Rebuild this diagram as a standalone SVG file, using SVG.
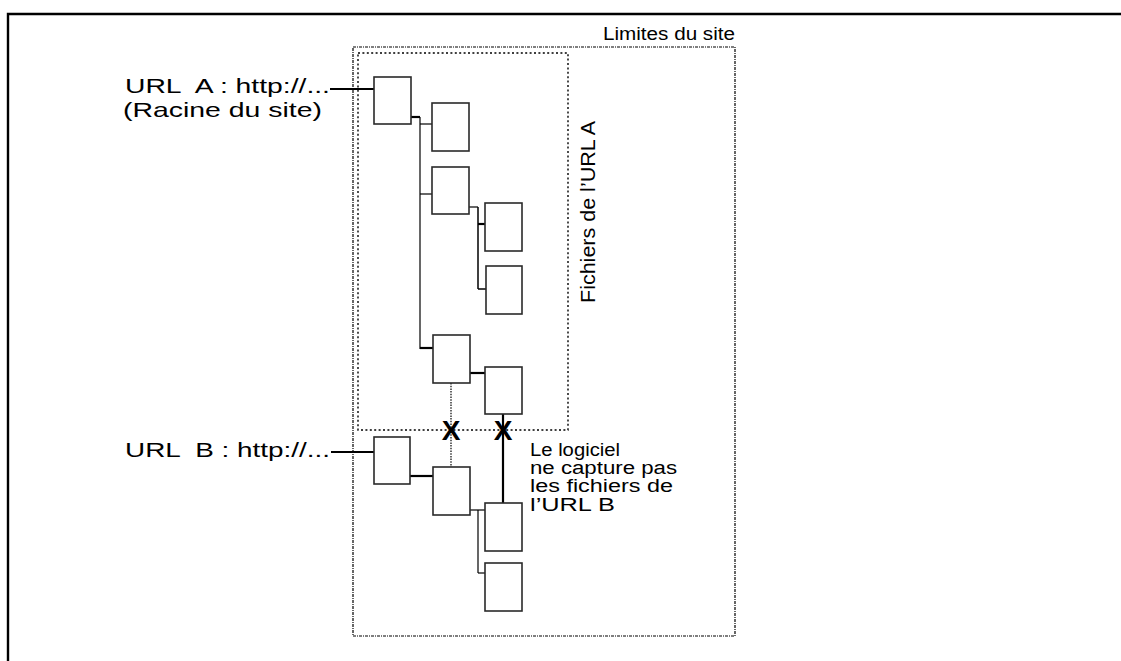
<svg xmlns="http://www.w3.org/2000/svg" width="1121" height="661" viewBox="0 0 1121 661">
<style>
text{font-family:"Liberation Sans",Arial,sans-serif;fill:#000}
.lbl{font-size:21px}
.small{font-size:18px}
.box{fill:#fff;stroke:#2a2a2a;stroke-width:1.6}
.thin{stroke:#000;stroke-width:1.2;fill:none}
.thick{stroke:#000;stroke-width:2.2;fill:none}
.dot{stroke:#000;stroke-width:1.2;stroke-dasharray:1.5,1.2;fill:none}
.xmark{font-size:28px;font-weight:bold}
</style>
<rect width="1121" height="661" fill="#fff"/>
<path d="M8,680 V14 H1140" fill="none" stroke="#000" stroke-width="2.4"/>
<g id="site-limits">
<rect x="353" y="47" width="382" height="589" fill="none" stroke="#000" stroke-width="1.2" stroke-dasharray="3,1,1,1"/>
<text class="small" x="603" y="40" textLength="132" lengthAdjust="spacingAndGlyphs">Limites du site</text>
</g>
<g id="url-a-files">
<rect x="358" y="53" width="210" height="377" fill="none" stroke="#000" stroke-width="1.4" stroke-dasharray="2,2.4"/>
<text class="small" transform="translate(595,303) rotate(-90)" textLength="182" lengthAdjust="spacingAndGlyphs" style="font-size:20px">Fichiers de l’URL A</text>
</g>
<g id="connectors">
<line class="thick" x1="330" y1="89" x2="375" y2="89"/>
<polyline class="thick" points="411,117 420,117"/>
<line class="thin" x1="420" y1="117" x2="420" y2="349"/>
<line class="thin" x1="420" y1="124" x2="432" y2="124"/>
<line class="thin" x1="420" y1="194" x2="432" y2="194" stroke="#555"/>
<line class="thick" x1="420" y1="348" x2="433" y2="348"/>
<line class="thin" x1="469" y1="207" x2="478" y2="207"/>
<line class="thin" x1="478" y1="207" x2="478" y2="289" style="stroke-width:1.5"/>
<line class="thick" x1="478" y1="224" x2="485" y2="224"/>
<line class="thin" x1="478" y1="289" x2="486" y2="289" style="stroke-width:1.5"/>
<line class="thick" x1="470" y1="373" x2="485" y2="373"/>
<line class="dot" x1="451" y1="383" x2="451" y2="467"/>
<line class="thick" x1="503" y1="414" x2="503" y2="503"/>
<line class="thick" x1="331" y1="452" x2="375" y2="452"/>
<line class="thick" x1="410" y1="476" x2="433" y2="476"/>
<line class="thin" x1="470" y1="510" x2="485" y2="510"/>
<line class="thin" x1="478" y1="510" x2="478" y2="573"/>
<line class="thin" x1="478" y1="573" x2="485" y2="573"/>
</g>
<g id="x-marks">
<text class="xmark" x="451" y="440" text-anchor="middle">X</text>
<text class="xmark" x="503" y="440" text-anchor="middle">X</text>
</g>
<g id="url-a-label">
<text class="lbl" x="125" y="93" textLength="205" lengthAdjust="spacingAndGlyphs" xml:space="preserve">URL  A : http://...</text>
<text class="lbl" x="123" y="117" textLength="199" lengthAdjust="spacingAndGlyphs">(Racine du site)</text>
</g>
<g id="url-b-label">
<text class="lbl" x="125" y="457" textLength="205" lengthAdjust="spacingAndGlyphs" xml:space="preserve">URL  B : http://...</text>
</g>
<g id="note">
<text class="small" x="530" y="456" textLength="90" lengthAdjust="spacingAndGlyphs">Le logiciel</text>
<text class="small" x="530" y="474" textLength="147" lengthAdjust="spacingAndGlyphs">ne capture pas</text>
<text class="small" x="530" y="492" textLength="143" lengthAdjust="spacingAndGlyphs">les fichiers de</text>
<text class="small" x="530" y="511" textLength="85" lengthAdjust="spacingAndGlyphs">l’URL B</text>
</g>
<g id="node-a1"><rect class="box" x="374" y="77" width="37" height="47"/></g>
<g id="node-a2"><rect class="box" x="432" y="103" width="37" height="48"/></g>
<g id="node-a3"><rect class="box" x="432" y="167" width="37" height="47"/></g>
<g id="node-a4"><rect class="box" x="485" y="203" width="37" height="48"/></g>
<g id="node-a5"><rect class="box" x="486" y="266" width="36" height="48"/></g>
<g id="node-a6"><rect class="box" x="433" y="335" width="37" height="48"/></g>
<g id="node-a7"><rect class="box" x="485" y="367" width="37" height="47"/></g>
<g id="node-b1"><rect class="box" x="374" y="437" width="36" height="47"/></g>
<g id="node-b2"><rect class="box" x="433" y="467" width="37" height="48"/></g>
<g id="node-b3"><rect class="box" x="485" y="503" width="37" height="48"/></g>
<g id="node-b4"><rect class="box" x="485" y="563" width="37" height="48"/></g>
</svg>
